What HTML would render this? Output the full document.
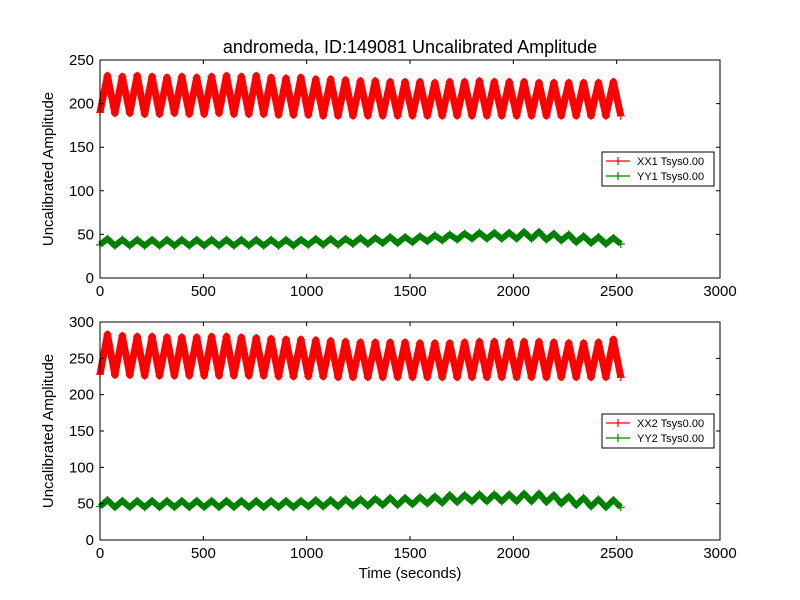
<!DOCTYPE html>
<html><head><meta charset="utf-8"><style>
body{margin:0;background:#fff;}
svg{display:block;font-family:"Liberation Sans",sans-serif;}
</style></head><body>
<svg id="chart" width="800" height="600" viewBox="0 0 800 600">
<rect width="800" height="600" fill="#fff"/>
<text x="410" y="53" text-anchor="middle" font-size="18">andromeda, ID:149081 Uncalibrated Amplitude</text>
<g id="p1"></g><g id="p2"></g>
<text x="410" y="578" text-anchor="middle" font-size="15">Time (seconds)</text>
</svg>
<script>
const period = 72;
const xx1Peaks = [232,231,232,231,230,231,230,231,232,231,232,230,229,230,228,228,227,226,226,225,225,225,224,225,225,226,225,225,225,224,224,224,224,224,225];
const xx1Troughs = [190,189,189,188,188,189,188,188,189,188,188,188,187,187,187,186,186,186,186,186,186,186,186,186,186,186,186,186,186,186,186,186,186,186,186];
const yy1Peaks = [45,44,44,44,44,44,44,44,44,44,44,44,44,44,45,45,45,46,46,47,47,48,49,50,51,52,52,52,53,53,51,50,48,47,46];
const yy1Troughs = [38,37,37,37,37,37,37,37,37,37,37,37,37,37,38,38,38,39,39,40,40,41,42,43,44,45,45,45,45,45,44,43,41,40,39];
const xx2Peaks = [283,281,280,280,279,279,279,280,280,279,278,277,276,276,275,274,273,272,272,272,272,271,271,271,272,273,273,273,273,273,272,271,271,272,276];
const xx2Troughs = [228,227,227,226,226,226,226,226,226,226,226,226,225,225,225,225,224,224,224,224,224,224,224,224,224,224,224,224,224,224,224,224,224,224,224];
const yy2Peaks = [55,54,54,54,54,54,54,54,54,54,54,54,54,54,55,55,56,56,57,58,58,59,60,62,62,63,63,63,64,64,62,60,58,56,55];
const yy2Troughs = [46,45,45,45,45,45,45,45,45,45,45,45,45,45,46,46,46,47,47,48,48,49,50,51,52,53,53,53,53,53,52,50,48,46,45];
const xTicks = [0,500,1000,1500,2000,2500,3000];
const y1Ticks = [0,50,100,150,200,250];
const y2Ticks = [0,50,100,150,200,250,300];
const NS='http://www.w3.org/2000/svg';
function mk(tag,attrs,parent){const e=document.createElementNS(NS,tag);for(const k in attrs)e.setAttribute(k,attrs[k]);parent.appendChild(e);return e;}
function panel(g,top,bottom,ymax,yTicks,series,labels,legY,showX){
  const L=100,R=720;
  const sx=v=>L+(v/3000)*(R-L);
  const sy=v=>bottom-(v/ymax)*(bottom-top);
  series.forEach((s,si)=>{
    let pts=[];
    s.peaks.forEach((p,i)=>{
      pts.push([sx(i*period),sy(s.troughs[i])]);
      pts.push([sx(i*period+period/2),sy(p)]);
    });
    pts.push([sx(s.peaks.length*period),sy(s.troughs[s.troughs.length-1])]);
    const pl=mk('polyline',{points:pts.map(p=>p.join(',')).join(' '),fill:'none',stroke:s.color,'stroke-width':s.w,'stroke-linejoin':'round'},g);
    
    
    pts.forEach(p=>{
      const m=mk('path',{d:`M${p[0]-4},${p[1]}h8M${p[0]},${p[1]-4}v8`,stroke:s.color,'stroke-width':1.2},g);
      
      
    });
  });
  const frame=mk('rect',{x:L,y:top,width:R-L,height:bottom-top,fill:'none',stroke:'#000','stroke-width':1},g);
  
  
  xTicks.forEach(t=>{
    const x=sx(t);
    mk('path',{d:`M${x},${bottom}v-4M${x},${top}v4`,stroke:'#000'},g);
    const tx=mk('text',{x:x,y:bottom+18,'text-anchor':'middle','font-size':15},g);
    tx.textContent=t;
    
    
  });
  yTicks.forEach(t=>{
    const y=sy(t);
    mk('path',{d:`M${L},${y}h4M${R},${y}h-4`,stroke:'#000'},g);
    const tx=mk('text',{x:L-6,y:y+5,'text-anchor':'end','font-size':15},g);
    tx.textContent=t;
    
    
  });
  const yt=mk('text',{x:0,y:0,transform:`translate(53,${(top+bottom)/2}) rotate(-90)`,'text-anchor':'middle','font-size':15},g);
  yt.textContent='Uncalibrated Amplitude';
  
  
  const lg=mk('g',{},g);
  
  
  mk('rect',{x:602,y:legY,width:112,height:34,fill:'#fff',stroke:'#000'},lg);
  labels.forEach((lab,i)=>{
    const y=legY+9+i*15;
    mk('path',{d:`M606,${y}h24M618,${y-4}v8`,stroke:series[i].color,'stroke-width':1.2},lg);
    const t=mk('text',{x:637,y:y+4,'font-size':11},lg);
    t.textContent=lab;
    
    
  });
}
panel(document.getElementById('p1'),60,278,250,y1Ticks,[
  {name:'xx1',peaks:xx1Peaks,troughs:xx1Troughs,color:'#ff0000',w:7},
  {name:'yy1',peaks:yy1Peaks,troughs:yy1Troughs,color:'#008000',w:6}],
  ['XX1 Tsys0.00','YY1 Tsys0.00'],152);
panel(document.getElementById('p2'),322,540,300,y2Ticks,[
  {name:'xx2',peaks:xx2Peaks,troughs:xx2Troughs,color:'#ff0000',w:7},
  {name:'yy2',peaks:yy2Peaks,troughs:yy2Troughs,color:'#008000',w:6}],
  ['XX2 Tsys0.00','YY2 Tsys0.00'],414);
</script>
</body></html>
